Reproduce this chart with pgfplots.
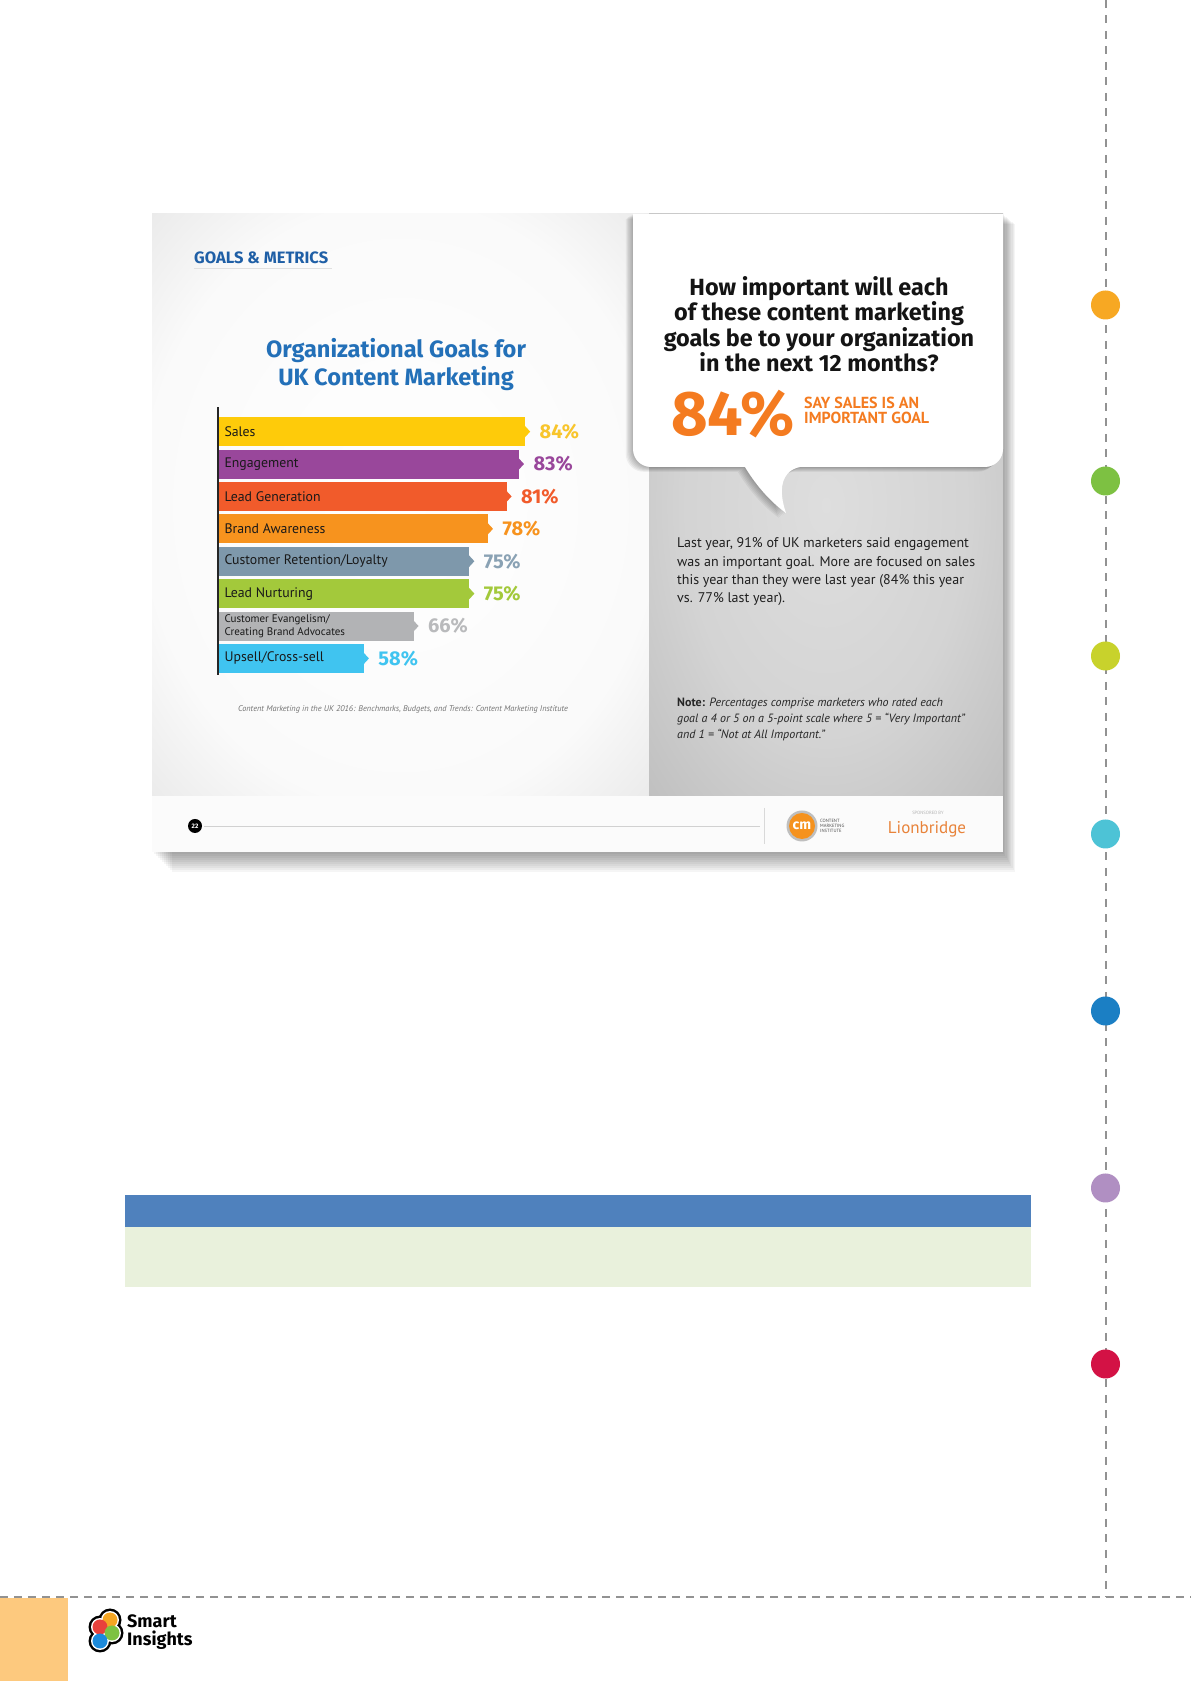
\documentclass[border=0pt]{standalone}
\usepackage{pgfplots}
\pgfplotsset{compat=1.18}
\usepackage{fontspec}
\setmainfont{PT Sans}
\newfontfamily\fira{Fira Sans}
\definecolor{cSales}{HTML}{FECB0A}
\definecolor{cEng}{HTML}{99479B}
\definecolor{cLG}{HTML}{F15B2B}
\definecolor{cBA}{HTML}{F7931E}
\definecolor{cCR}{HTML}{7E98AB}
\definecolor{cLN}{HTML}{A3C93B}
\definecolor{cCE}{HTML}{B2B3B5}
\definecolor{cUP}{HTML}{40C4F0}
\definecolor{tSales}{HTML}{F8C52C}
\definecolor{tCR}{HTML}{8AA2B4}
\definecolor{tCE}{HTML}{B9BABC}
\definecolor{titleblue}{HTML}{2370B8}
\definecolor{hdrblue}{HTML}{1F5FA6}
\definecolor{orng}{HTML}{F47B20}
\definecolor{dashc}{HTML}{929292}
\definecolor{lion}{HTML}{E8833A}
\definecolor{cmo}{HTML}{F5921E}
\definecolor{blueband}{HTML}{4F81BD}
\definecolor{greenband}{HTML}{E9F1DC}
\definecolor{footor}{HTML}{FDC97E}
\definecolor{siO}{HTML}{F5A623}
\definecolor{siR}{HTML}{E8413C}
\definecolor{siG}{HTML}{7DC242}
\definecolor{siB}{HTML}{1C8ADB}
\pgfdeclareradialshading{leftpanel}{\pgfpoint{0bp}{0bp}}{color(0bp)=(white); color(26bp)=(white!98!black); color(42bp)=(white!88!black); color(55bp)=(white!79!black); color(72bp)=(white!74!black)}
\pgfdeclareradialshading{rightpanel}{\pgfpoint{0bp}{0bp}}{color(0bp)=(black!13); color(20bp)=(black!17); color(40bp)=(black!27); color(58bp)=(black!35); color(72bp)=(black!38)}
\pgfdeclareplotmark{rtri}{%
  \pgfpathmoveto{\pgfpoint{-0.5pt}{6pt}}%
  \pgfpathlineto{\pgfpoint{5pt}{0pt}}%
  \pgfpathlineto{\pgfpoint{-0.5pt}{-6pt}}%
  \pgfpathclose\pgfusepathqfill}
\begin{document}
\begin{tikzpicture}[x=1pt,y=1pt]
\useasboundingbox (0,0) rectangle (1191,1681);
\fill[white] (0,0) rectangle (1191,1681);
\begin{scope}[shift={(0,1681)},yscale=-1]
  % card shadow
  \foreach \k in {1,...,10} {
    \fill[black,opacity=0.04] (152+2*\k,214+\k) rectangle (1003+1.2*\k,852+2*\k);
  }
  % panels
  \shade[shading=leftpanel] (152,214) rectangle (649,796);
  \shade[shading=rightpanel] (649,214) rectangle (1003,796);
  % bubble shadow
  \foreach \k in {1,...,6} {
    \begin{scope}[xshift=-\k*1.2pt, yshift=\k*0.8pt]
      \fill[black,opacity=0.05] (633,214) -- (1003,214) -- (1003,449) .. controls (1003,459) and (995,467) .. (985,467) -- (800,467) .. controls (781,471) and (778,490) .. (786,513) .. controls (768,500) and (754,482) .. (745,467) -- (651,467) .. controls (641,467) and (633,459) .. (633,449) -- cycle;
    \end{scope}
  }
  % bubble
  \fill[white] (633,214) -- (1003,214) -- (1003,449) .. controls (1003,459) and (995,467) .. (985,467) -- (800,467) .. controls (781,471) and (778,490) .. (786,513) .. controls (768,500) and (754,482) .. (745,467) -- (651,467) .. controls (641,467) and (633,459) .. (633,449) -- cycle;
  % footer strip
  \fill[white!98.5!black] (152,796) rectangle (1003,852);
  \draw[black!18, line width=0.8pt] (204,826) -- (760,826);
  \fill[black] (195,826) circle (7pt);
  \node[text=white, inner sep=0, font=\fira\bfseries\fontsize{6.5}{6.5}\selectfont] at (195,826) {22};
  \draw[black!15, line width=0.6pt] (764,808) -- (764,844);
  \fill[black!25] (802,826) circle (15.5pt);
  \fill[cmo] (802,826) circle (13pt);
  \node[text=white, inner sep=0, font=\fira\bfseries\fontsize{14}{14}\selectfont] at (802,826) {cm};
  \node[anchor=west, align=left, inner sep=0, font=\fontsize{4.6}{5}\selectfont, text=black!70] at (820,826) {CONTENT\\MARKETING\\INSTITUTE};
  \node[inner sep=0, font=\fontsize{4.6}{5}\selectfont, text=black!30] at (928,813) {SPONSORED BY};
  \node[inner sep=0, font=\fontsize{17}{17}\selectfont, text=lion] at (927,829) {Lionbridge};
  % page decorations
  \draw[dashc, line width=2pt, dash pattern=on 8pt off 7.5pt] (1105.5,0) -- (1105.5,1597);
  \draw[dashc, line width=2pt, dash pattern=on 8pt off 6pt] (0,1597) -- (1191,1597);
  \fill[footor] (0,1598) rectangle (68,1681);
  \foreach \yy/\cc in {305/F7A823,481/7DC142,656/C8D22C,834/4DC3D6,1011/1B7FC4,1188/B08FC2,1364/D31245} {
    \definecolor{dotc}{HTML}{\cc}
    \fill[dotc] (1105.5,\yy) circle (14.5pt);
  }
  \fill[blueband] (125,1195) rectangle (1031,1227);
  \fill[greenband] (125,1227) rectangle (1031,1287);
  % Smart Insights logo
  \foreach \p in {(110,1620),(100,1627),(112,1633),(100,1641)} \fill[black] \p circle (11.5pt);
  \foreach \p in {(110,1620),(100,1627),(112,1633),(100,1641)} \fill[white] \p circle (9pt);
  \fill[siO] (110,1620) circle (7.5pt);
  \fill[siR] (100,1627) circle (7.5pt);
  \fill[siG] (112,1633) circle (7.5pt);
  \fill[siB] (100,1641) circle (7.5pt);
  \node[anchor=base west, inner sep=0, font=\fira\bfseries\fontsize{18}{18}\selectfont] at (127,1628) {Smart};
  \node[anchor=base west, inner sep=0, font=\fira\bfseries\fontsize{18}{18}\selectfont] at (127,1646) {Insights};
\end{scope}

\begin{axis}[
  at={(218pt,1006pt)}, anchor=south west,
  scale only axis, width=406.4pt, height=268pt,
  xmin=34.47, xmax=100, ymin=0.49, ymax=8.76,
  xbar, bar width=29pt, bar shift=0pt,
  axis x line=none, axis y line*=left,
  y axis line style={draw=black!85, line width=1.8pt, -},
  ytick={1,2,3,4,5,6,7,8},
  yticklabels={Upsell/Cross-sell,{\fontsize{11}{11.5}\selectfont Customer Evangelism/\\\fontsize{11}{11.5}\selectfont Creating Brand Advocates},Lead Nurturing,Customer Retention/Loyalty,Brand Awareness,Lead Generation,Engagement,Sales},
  major tick length=0pt,
  yticklabel style={anchor=west, align=left, xshift=3pt, text=black!90, font=\fontsize{13.8}{13}\selectfont},
  axis on top,
  point meta=x,
  /pgf/number format/assume math mode=true,
  nodes near coords={\pgfmathprintnumber{\pgfplotspointmeta}\%},
  nodes near coords style={anchor=west, xshift=11pt, font=\fira\bfseries\fontsize{20}{20}\selectfont},
]
\addplot[fill=cSales, draw=none, mark=rtri, mark options={fill=cSales}, nodes near coords style={text=tSales}] coordinates {(84,8)};
\addplot[fill=cEng, draw=none, mark=rtri, mark options={fill=cEng}, nodes near coords style={text=cEng}] coordinates {(83,7)};
\addplot[fill=cLG, draw=none, mark=rtri, mark options={fill=cLG}, nodes near coords style={text=cLG}] coordinates {(81,6)};
\addplot[fill=cBA, draw=none, mark=rtri, mark options={fill=cBA}, nodes near coords style={text=cBA}] coordinates {(78,5)};
\addplot[fill=cCR, draw=none, mark=rtri, mark options={fill=cCR}, nodes near coords style={text=tCR}] coordinates {(75,4)};
\addplot[fill=cLN, draw=none, mark=rtri, mark options={fill=cLN}, nodes near coords style={text=cLN}] coordinates {(75,3)};
\addplot[fill=cCE, draw=none, mark=rtri, mark options={fill=cCE}, nodes near coords style={text=tCE}] coordinates {(66,2)};
\addplot[fill=cUP, draw=none, mark=rtri, mark options={fill=cUP}, nodes near coords style={text=cUP}] coordinates {(58,1)};
\end{axis}

\begin{scope}[shift={(0,1681)},yscale=-1]
  % left panel texts
  \node[anchor=base west, inner sep=0, text=hdrblue, font=\fira\bfseries\fontsize{16.5}{17}\selectfont] at (194,263.5) {GOALS \& METRICS};
  \draw[black!12, line width=1pt] (194,269) -- (332,269);
  \node[anchor=base, inner sep=0, text=titleblue, font=\fira\bfseries\fontsize{23.6}{24}\selectfont] at (396,358) {Organizational Goals for};
  \node[anchor=base, inner sep=0, text=titleblue, font=\fira\bfseries\fontsize{23.6}{24}\selectfont] at (396,386) {UK Content Marketing};
  \node[anchor=base, inner sep=0, text=black!55, font=\itshape\fontsize{8.3}{8.5}\selectfont] at (403,712) {Content Marketing in the UK 2016: Benchmarks, Budgets, and Trends: Content Marketing Institute};
  % right panel texts
  \foreach \yy/\tt in {296/How important will each, 321/of these content marketing, 347/goals be to your organization, 372/in the next 12 months?} {
    \node[anchor=base, inner sep=0, text=black!92, font=\fira\bfseries\fontsize{23.4}{23.4}\selectfont] at (819,\yy) {\tt};
  }
  \node[anchor=base west, inner sep=0, text=orng, font=\fira\bfseries\fontsize{63}{63}\selectfont] at (671,436) {84\%};
  \node[anchor=base west, inner sep=0, text=orng, font=\bfseries\fontsize{16}{16}\selectfont] at (804,409) {SAY SALES IS AN};
  \node[anchor=base west, inner sep=0, text=orng, font=\bfseries\fontsize{16}{16}\selectfont] at (804,424) {IMPORTANT GOAL};
  \node[anchor=base west, inner sep=0, text=black!88, font=\fontsize{14}{14}\selectfont] at (677,548) {Last year, 91\% of UK marketers said engagement};
  \node[anchor=base west, inner sep=0, text=black!88, font=\fontsize{14}{14}\selectfont] at (677,566.5) {was an important goal. More are focused on sales};
  \node[anchor=base west, inner sep=0, text=black!88, font=\fontsize{14}{14}\selectfont] at (677,585) {this year than they were last year (84\% this year};
  \node[anchor=base west, inner sep=0, text=black!88, font=\fontsize{14}{14}\selectfont] at (677,603) {vs. 77\% last year).};
  \node[anchor=base west, inner sep=0, text=black!85, font=\fontsize{12}{12}\selectfont] at (677,707) {\textbf{Note:} \textit{Percentages comprise marketers who rated each}};
  \node[anchor=base west, inner sep=0, text=black!85, font=\itshape\fontsize{12}{12}\selectfont] at (677,723) {goal a 4 or 5 on a 5-point scale where 5 = ``Very Important''};
  \node[anchor=base west, inner sep=0, text=black!85, font=\itshape\fontsize{12}{12}\selectfont] at (677,739) {and 1 = ``Not at All Important.''};
\end{scope}
\end{tikzpicture}
\end{document}
